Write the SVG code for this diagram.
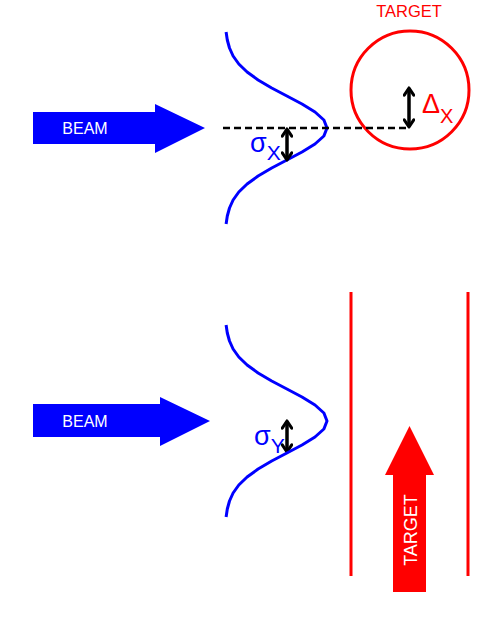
<svg xmlns="http://www.w3.org/2000/svg" width="491" height="620" viewBox="0 0 491 620">
<style>
.lbl{font-family:"Liberation Sans",Arial,sans-serif}
.gauss{fill:none;stroke:#0000ff;stroke-width:3;stroke-linejoin:round;stroke-linecap:butt}
.dbl{fill:none;stroke:#000;stroke-width:3.5}
.tgt{fill:none;stroke:#ff0000;stroke-width:3}
</style>
<defs>
<marker id="chev" viewBox="0 0 10 10" refX="7.5" refY="5" markerWidth="3.4" markerHeight="3.4" orient="auto-start-reverse" markerUnits="strokeWidth">
<path d="M1.5,1 L7.5,5 L1.5,9" fill="none" stroke="#000" stroke-width="2.6" stroke-linecap="round" stroke-linejoin="round"/>
</marker>
</defs>
<rect width="491" height="620" fill="#fff"/>

<g id="beam-top">
<path d="M33,112 H155 V104 L205,128 L155,153 V144 H33 Z" fill="#0000ff"/>
<text class="lbl" x="85" y="134" font-size="16" fill="#fff" text-anchor="middle">BEAM</text>
</g>

<g id="gauss-top">
<polyline class="gauss" points="226.1,32 227.3,40 229.5,48 233.1,56 238.8,64 247.1,72 258.1,80 271.7,88 286.9,96 302,104 315,112 323.9,120 327,128 323.9,136 315,144 302,152 286.9,160 271.7,168 258.1,176 247.1,184 238.8,192 233.1,200 229.5,208 227.3,216 226.1,224"/>
</g>

<g id="target-top">
<circle cx="410" cy="90" r="59" class="tgt"/>
<text class="lbl" x="409" y="17" font-size="16.5" fill="#ff0000" text-anchor="middle">TARGET</text>
</g>

<g id="connectors">
<line x1="223" y1="128" x2="408" y2="128" stroke="#000" stroke-width="2.5" stroke-dasharray="7,4"/>
<line class="dbl" x1="287" y1="129" x2="287" y2="160" marker-start="url(#chev)" marker-end="url(#chev)"/>
<line class="dbl" x1="409" y1="88" x2="409" y2="127" marker-start="url(#chev)" marker-end="url(#chev)"/>
<line class="dbl" x1="287" y1="421" x2="287" y2="452" marker-start="url(#chev)" marker-end="url(#chev)"/>
</g>

<g id="sigma-x">
<text class="lbl" x="250" y="152" font-size="27" fill="#0000ff">σ<tspan font-size="21" dy="8">X</tspan></text>
</g>
<g id="delta-x">
<text class="lbl" x="422" y="113" font-size="27" fill="#ff0000">Δ<tspan font-size="20" dy="10">X</tspan></text>
</g>

<g id="beam-bottom">
<path d="M33,404 H160 V397 L210,421 L160,446 V437 H33 Z" fill="#0000ff"/>
<text class="lbl" x="85" y="427" font-size="16" fill="#fff" text-anchor="middle">BEAM</text>
</g>

<g id="gauss-bottom">
<polyline class="gauss" points="226.1,325 227.3,333 229.5,341 233.1,349 238.8,357 247.1,365 258.1,373 271.7,381 286.9,389 302,397 315,405 323.9,413 327,421 323.9,429 315,437 302,445 286.9,453 271.7,461 258.1,469 247.1,477 238.8,485 233.1,493 229.5,501 227.3,509 226.1,517"/>
</g>

<g id="sigma-y">
<text class="lbl" x="254" y="445" font-size="27" fill="#0000ff">σ<tspan font-size="21" dy="8">Y</tspan></text>
</g>

<g id="target-bottom">
<line x1="351" y1="292" x2="351" y2="576" class="tgt"/>
<line x1="468" y1="292" x2="468" y2="576" class="tgt"/>
<path d="M393,592 V475 H385 L409.5,426 L434,475 H426 V592 Z" fill="#ff0000"/>
<text class="lbl" x="0" y="0" font-size="18" fill="#fff" text-anchor="middle" transform="translate(417,530) rotate(-90)">TARGET</text>
</g>
</svg>
